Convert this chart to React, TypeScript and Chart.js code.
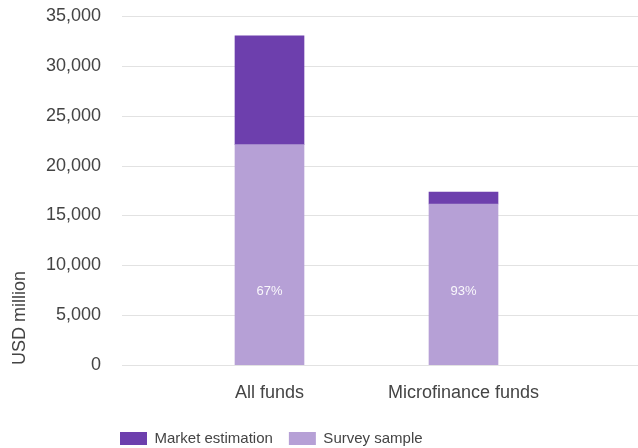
import React, { useEffect, useRef } from "react";
import { Chart, registerables } from "chart.js";

Chart.register(...registerables);

const categories = ["All funds", "Microfinance funds"];
const surveySample = [22100, 16150];
const marketEstimation = [10900, 1200];
const shareLabels = ["67%", "93%"];
const yTickValues = [0, 5000, 10000, 15000, 20000, 25000, 30000, 35000];
const axisTitle = "USD million";

const FONT = "'Liberation Sans', Arial, Helvetica, sans-serif";
const TEXT = "#444444";
const DARK = "#6d3fad";
const LIGHT = "#b6a0d6";
const GRID = "#e2e2e2";

// horizontal grid lines run wider than the category band (from x=122 to the right edge)
const wideGridPlugin = {
  id: "wideGrid",
  beforeDatasetsDraw(chart: any) {
    const ctx = chart.ctx;
    const y = chart.scales.y;
    ctx.save();
    ctx.strokeStyle = GRID;
    ctx.lineWidth = 1.2;
    y.ticks.forEach((t: any) => {
      const py = Math.round(y.getPixelForValue(t.value)) + 0.5;
      ctx.beginPath();
      ctx.moveTo(122, py);
      ctx.lineTo(chart.width, py);
      ctx.stroke();
    });
    ctx.restore();
  },
};

const shareLabelPlugin = {
  id: "shareLabels",
  afterDatasetsDraw(chart: any) {
    const meta = chart.getDatasetMeta(0);
    const ctx = chart.ctx;
    const y = chart.scales.y.getPixelForValue(7400);
    ctx.save();
    ctx.font = `13px ${FONT}`;
    ctx.fillStyle = "rgba(255,255,255,0.92)";
    ctx.textAlign = "center";
    ctx.textBaseline = "middle";
    meta.data.forEach((bar: any, i: number) => {
      ctx.fillText(shareLabels[i], bar.x, y);
    });
    ctx.restore();
  },
};

const legendPlacePlugin = {
  id: "legendPlace",
  afterLayout(chart: any) {
    const lg = chart.legend;
    if (!lg) return;
    const dx = 104 - lg.left;
    lg.left += dx;
    lg.right += dx;
    const dy = 415 - lg.top;
    lg.top += dy;
    lg.bottom += dy;
  },
};

export default function App() {
  const ref = useRef<HTMLCanvasElement | null>(null);

  useEffect(() => {
    if (!ref.current) return;
    const chart = new Chart(ref.current, {
      type: "bar",
      data: {
        labels: categories,
        datasets: [
          {
            label: "Survey sample",
            data: surveySample,
            backgroundColor: LIGHT,
            barThickness: 69,
          },
          {
            label: "Market estimation",
            data: marketEstimation,
            backgroundColor: DARK,
            barThickness: 69,
          },
        ],
      },
      options: {
        animation: false,
        responsive: false,
        maintainAspectRatio: false,
        layout: { padding: { top: 16, right: 77.5, left: 0, bottom: 6 } },
        plugins: {
          tooltip: { enabled: false },
          legend: {
            position: "bottom",
            align: "start",
            reverse: true,
            labels: {
              boxWidth: 27,
              boxHeight: 13,
              padding: 16,
              color: TEXT,
              font: { family: FONT, size: 15 },
            },
          },
        },
        scales: {
          x: {
            stacked: true,
            grid: { display: false, drawTicks: false },
            border: { display: false },
            afterFit: (scale: any) => {
              scale.height = 36;
            },
            ticks: {
              autoSkip: false,
              maxRotation: 0,
              padding: 17,
              color: TEXT,
              font: { family: FONT, size: 18 },
            },
          },
          y: {
            stacked: true,
            min: 0,
            max: 35000,
            afterFit: (scale: any) => {
              scale.width = 172.5;
            },
            afterBuildTicks: (axis: any) => {
              axis.ticks = yTickValues.map((v) => ({ value: v }));
            },
            grid: { display: false, drawTicks: true, tickLength: 71.5 },
            border: { display: false },
            ticks: {
              padding: 0,
              color: TEXT,
              font: { family: FONT, size: 18 },
              callback: (v: any) => Number(v).toLocaleString("en-US"),
            },
            title: {
              display: true,
              text: axisTitle,
              align: "start",
              color: TEXT,
              font: { family: FONT, size: 18 },
              padding: { top: 9, bottom: 0 },
            },
          },
        },
      },
      plugins: [wideGridPlugin, shareLabelPlugin, legendPlacePlugin],
    } as any);
    return () => chart.destroy();
  }, []);

  return (
    <div style={{ position: "absolute", left: 0, top: 0, width: 638, height: 448, background: "#fff" }}>
      <canvas ref={ref} width={638} height={448} style={{ width: 638, height: 448 }} />
    </div>
  );
}
